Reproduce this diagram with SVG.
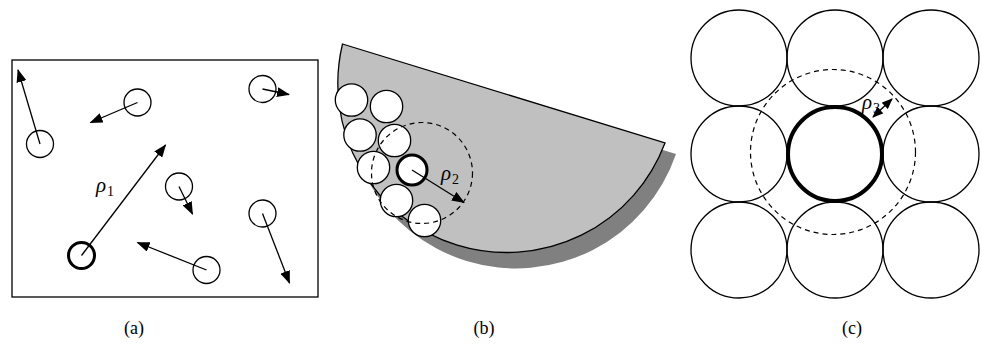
<svg xmlns="http://www.w3.org/2000/svg" width="982" height="347" viewBox="0 0 982 347">
<style>
.c{fill:none;stroke:#000;stroke-width:1.3}
.w{fill:#fff;stroke:#000;stroke-width:1.3}
.thick{fill:#fff;stroke:#000;stroke-width:3}
.thick4{fill:none;stroke:#000;stroke-width:4}
.dash{fill:none;stroke:#000;stroke-width:1.2;stroke-dasharray:5,4}
.ar{stroke:#000;stroke-width:1.3;fill:none;marker-end:url(#ah)}
.lbl{font-family:"Liberation Serif","Times New Roman",serif;font-size:18px;fill:#000}
.rho{font-family:"Liberation Serif","Times New Roman",serif;font-size:21px;font-style:italic;fill:#000}
.sub{font-family:"Liberation Serif","Times New Roman",serif;font-size:14px;fill:#000}
</style>
<defs>
<marker id="ah" markerWidth="13" markerHeight="10" refX="12" refY="5" orient="auto" markerUnits="userSpaceOnUse">
<path d="M0,0 L13,5 L0,10 Z" fill="#000"/>
</marker>
<marker id="ahs" markerWidth="11" markerHeight="9" refX="10" refY="4.5" orient="auto-start-reverse" markerUnits="userSpaceOnUse">
<path d="M0,0 L11,4.5 L0,9 Z" fill="#000"/>
</marker>
</defs>

<g id="panel-a">
<rect x="12" y="60" width="306" height="237" fill="#fff" stroke="#000" stroke-width="1.3"/>
<g id="a-p1"><circle class="c" cx="40" cy="144" r="13.5"/></g>
<g id="a-p2"><circle class="c" cx="137.5" cy="102.5" r="13.5"/></g>
<g id="a-p3"><circle class="c" cx="262.5" cy="89" r="13.5"/></g>
<g id="a-p4"><circle class="c" cx="179" cy="186.5" r="13.5"/></g>
<g id="a-p5"><circle class="c" cx="262.5" cy="213.5" r="13.5"/></g>
<g id="a-p6"><circle class="c" cx="206.5" cy="270" r="13.5"/></g>
<g id="a-p0"><circle class="thick" cx="81.5" cy="255.5" r="13"/></g>
<g id="a-connectors">
<line class="ar" x1="40" y1="144" x2="18" y2="70"/>
<line class="ar" x1="137.5" y1="102.5" x2="90.5" y2="122.5"/>
<line class="ar" x1="262.5" y1="89" x2="289" y2="94.5"/>
<line class="ar" x1="179" y1="186.5" x2="192.5" y2="214"/>
<line class="ar" x1="262.5" y1="213.5" x2="289.5" y2="283"/>
<line class="ar" x1="206.5" y1="270" x2="137.5" y2="242.5"/>
<line class="ar" x1="81.5" y1="255.5" x2="165.5" y2="145"/>
</g>
<text x="96" y="192" class="rho">ρ</text><text x="107" y="196" class="sub">1</text>
</g>

<g id="panel-b">
<path d="M353,55 L676,154 A169,169 0 0 1 353,55 Z" fill="#808080"/>
<path d="M342.5,44 L665,143 A169,169 0 0 1 342.5,44 Z" fill="#c0c0c0" stroke="#000" stroke-width="1.3"/>
<g id="b-p1"><circle class="w" cx="351.5" cy="100" r="16.2"/></g>
<g id="b-p2"><circle class="w" cx="386.5" cy="106.5" r="16.2"/></g>
<g id="b-p3"><circle class="w" cx="360" cy="135" r="16.2"/></g>
<g id="b-p4"><circle class="w" cx="394.5" cy="140.5" r="16.2"/></g>
<g id="b-p5"><circle class="w" cx="373.5" cy="167.5" r="16.2"/></g>
<g id="b-p6"><circle class="w" cx="396.5" cy="200.5" r="16.2"/></g>
<g id="b-p7"><circle class="w" cx="424.5" cy="220.5" r="16.2"/></g>
<g id="b-p0"><circle class="thick" cx="412" cy="170" r="15"/></g>
<circle class="dash" cx="422" cy="173" r="50.5"/>
<g id="b-connectors">
<line class="ar" x1="412" y1="170" x2="464" y2="202.5"/>
</g>
<text x="441" y="180" class="rho">ρ</text><text x="452" y="184" class="sub">2</text>
</g>

<g id="panel-c">
<g id="c-p1"><circle class="c" cx="739" cy="58" r="48"/></g>
<g id="c-p2"><circle class="c" cx="835" cy="58" r="48"/></g>
<g id="c-p3"><circle class="c" cx="931" cy="58" r="48"/></g>
<g id="c-p4"><circle class="c" cx="739" cy="154" r="48"/></g>
<g id="c-p6"><circle class="c" cx="931" cy="154" r="48"/></g>
<g id="c-p7"><circle class="c" cx="739" cy="250" r="48"/></g>
<g id="c-p8"><circle class="c" cx="835" cy="250" r="48"/></g>
<g id="c-p9"><circle class="c" cx="931" cy="250" r="48"/></g>
<g id="c-p0"><circle class="thick4" cx="835" cy="154" r="47"/></g>
<circle class="dash" cx="833" cy="152" r="82.5"/>
<g id="c-connectors">
<line x1="873" y1="117" x2="892" y2="99" stroke="#000" stroke-width="1.3" marker-start="url(#ahs)" marker-end="url(#ahs)"/>
</g>
<text x="862" y="109" class="rho">ρ</text><text x="873" y="113" class="sub">3</text>
</g>

<text x="134" y="334" class="lbl" text-anchor="middle">(a)</text>
<text x="484" y="334" class="lbl" text-anchor="middle">(b)</text>
<text x="852" y="334" class="lbl" text-anchor="middle">(c)</text>
</svg>
